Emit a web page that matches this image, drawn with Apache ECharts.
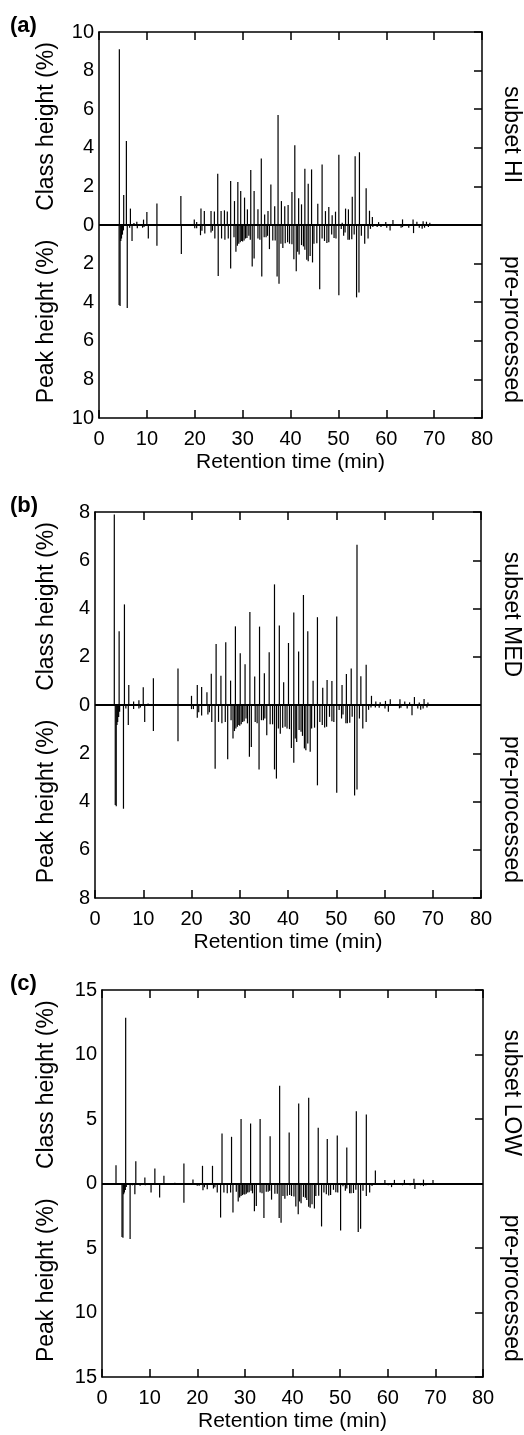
<!DOCTYPE html>
<html>

<head>
    <meta charset="utf-8">
    <title>Class height vs peak height</title>
    <script src="https://cdn.jsdelivr.net/npm/echarts@6/dist/echarts.min.js"></script>
    <style>
        html, body { margin: 0; padding: 0; background: #fff; }
        #main { width: 524px; height: 1435px; }
    </style>
</head>

<body>
    <div id="main"></div>
    <script type="text/javascript">
        // subset HI class heights (%)
        var hiTimes = [4.25, 5.16, 5.72, 6.56, 7.3, 7.9, 9.3, 10.0, 10.7, 12.1, 16.0, 17.1, 19.9, 20.4, 21.3, 22.0,
            23.4, 24.1, 24.8, 25.5, 26.2, 26.8, 27.5, 28.3, 29.0, 29.6, 30.4, 31.0, 31.7, 32.4, 33.2, 33.9, 34.6,
            35.3, 35.9, 36.7, 37.4, 38.1, 38.8, 39.5, 40.3, 40.9, 41.7, 42.3, 43.0, 43.7, 44.4, 45.7, 46.6, 47.3,
            48.0, 48.7, 49.4, 50.1, 50.8, 51.5, 52.1, 52.9, 53.5, 54.4, 55.8, 56.5, 57.1, 58.4, 59.9, 61.4, 63.4,
            65.6, 66.4, 67.7, 68.4, 69.1];
        var hiHeights = [9.1, 1.55, 4.35, 0.85, 0.1, 0.17, 0.28, 0.67, 0.05, 1.12, 0.02, 1.5, 0.28, 0.15, 0.85, 0.72,
            0.72, 0.7, 2.66, 0.72, 0.76, 0.7, 2.28, 1.24, 2.23, 1.76, 1.42, 0.81, 2.85, 1.76, 0.81, 3.44, 0.55,
            0.72, 2.1, 0.97, 5.7, 1.24, 0.97, 1.04, 1.71, 4.13, 1.38, 1.07, 2.92, 2.14, 2.88, 1.1, 3.14, 0.72,
            0.93, 0.5, 0.69, 3.64, 0.12, 0.85, 0.81, 1.47, 3.56, 3.77, 1.9, 0.74, 0.41, 0.15, 0.15, 0.26, 0.29,
            0.28, 0.17, 0.2, 0.17, 0.12];

        // subset MED class heights (%)
        var medTimes = [4.0, 5.0, 6.1, 7.0, 8.0, 9.1, 9.5, 10.0, 11.0, 12.1, 16.1, 17.2, 20.0, 21.2, 22.1, 23.2,
            24.1, 25.1, 26.1, 27.1, 28.1, 29.1, 30.1, 31.1, 32.1, 33.1, 34.1, 35.1, 36.1, 37.2, 38.2, 39.1, 40.1,
            41.2, 42.2, 43.2, 44.1, 45.2, 46.1, 47.2, 48.1, 49.1, 50.1, 51.2, 52.1, 53.1, 54.3, 55.1, 56.2, 57.3,
            58.2, 59.1, 60.2, 61.2, 63.2, 64.2, 65.2, 66.2, 67.2, 68.2, 69.0];
        var medHeights = [7.9, 3.06, 4.17, 0.83, 0.14, 0.2, 0.03, 0.74, 0.06, 1.11, 0.03, 1.51, 0.38, 0.83, 0.75, 0.53,
            1.3, 2.53, 1.21, 2.6, 1.01, 3.26, 2.14, 1.69, 3.85, 1.18, 3.25, 1.32, 2.19, 5.0, 3.3, 0.94, 2.57,
            3.83, 2.22, 4.56, 3.06, 1.01, 3.64, 0.72, 1.04, 1.0, 3.67, 0.83, 1.29, 1.51, 6.64, 1.19, 1.67, 0.38,
            0.14, 0.11, 0.17, 0.24, 0.24, 0.14, 0.11, 0.33, 0.1, 0.25, 0.1];

        // subset LOW class heights (%)
        var lowTimes = [2.94, 4.97, 7.1, 9.0, 11.1, 13.0, 15.3, 17.2, 19.1, 21.1, 23.2, 25.2, 27.2, 29.2, 31.2, 33.2,
            35.3, 37.3, 39.3, 41.3, 43.4, 45.4, 47.3, 49.4, 51.4, 53.4, 55.5, 57.4, 59.4, 61.4, 63.5, 65.5, 67.5,
            69.5];
        var lowHeights = [1.42, 12.84, 1.73, 0.47, 1.16, 0.6, 0.05, 1.55, 0.31, 1.37, 1.37, 3.88, 3.62, 5.0, 4.65, 5.0,
            3.67, 7.57, 3.95, 6.2, 6.64, 4.32, 3.44, 3.72, 2.79, 5.61, 5.35, 1.0, 0.28, 0.28, 0.28, 0.36, 0.3,
            0.28];

        // pre-processed peak heights (%), same in every panel
        var preTimes = [4.2, 4.4, 4.55, 4.7, 4.9, 5.1, 5.9, 6.4, 6.9, 8.0, 9.1, 9.4, 10.3, 12.1, 16.1, 17.2, 20.0,
            20.4, 21.2, 21.5, 22.1, 23.4, 23.7, 24.2, 24.9, 25.6, 26.3, 27.0, 27.5, 28.2, 28.6, 28.9, 29.2, 29.5,
            29.8, 30.0, 30.3, 30.6, 30.9, 31.3, 31.6, 32.0, 32.4, 33.2, 33.6, 34.0, 34.5, 34.9, 35.2, 35.6, 36.3,
            36.8, 37.2, 37.6, 38.0, 38.4, 38.9, 39.4, 39.8, 40.3, 40.7, 41.2, 41.5, 41.8, 42.3, 42.7, 43.0, 43.4,
            43.7, 44.1, 44.6, 44.9, 45.5, 46.1, 46.6, 47.1, 47.6, 48.0, 48.6, 49.1, 49.5, 50.1, 50.6, 51.1, 51.4,
            52.0, 52.3, 52.8, 53.3, 53.8, 54.3, 54.8, 55.5, 56.2, 56.7, 57.2, 58.1, 58.9, 60.1, 60.8, 63.1, 63.4,
            64.7, 65.7, 66.9, 67.5, 68.0, 68.8];
        var preHeights = [4.15, 4.2, 0.83, 0.7, 0.5, 0.28, 4.3, 0.14, 0.83, 0.17, 0.14, 0.1, 0.7, 1.08, 0.03, 1.5, 0.17,
            0.17, 0.53, 0.3, 0.44, 0.39, 0.3, 0.7, 2.64, 0.7, 0.76, 0.7, 2.25, 0.63, 1.39, 1.08, 0.97, 0.9,
            0.83, 0.86, 0.8, 0.7, 0.67, 0.56, 0.76, 2.15, 1.74, 0.7, 0.76, 2.67, 0.63, 0.63, 0.56, 1.25, 0.8,
            0.8, 2.67, 3.05, 0.97, 1.19, 0.94, 0.9, 0.97, 1.0, 1.78, 2.39, 1.39, 1.53, 1.04, 1.11, 1.28, 1.8,
            1.88, 1.6, 1.94, 0.97, 0.94, 3.33, 0.7, 0.83, 0.93, 0.9, 0.49, 0.67, 0.7, 3.64, 0.21, 0.56, 0.39,
            0.76, 0.76, 0.74, 0.49, 3.75, 3.5, 0.56, 0.97, 0.7, 0.2, 0.1, 0.1, 0.11, 0.14, 0.28, 0.14, 0.11,
            0.14, 0.42, 0.14, 0.2, 0.14, 0.1];

        var xTicks = [0, 80, 10];          // min, max, interval
        var yRangeA = [10, 2];             // max, interval
        var yRangeB = [8, 2];
        var yRangeC = [15, 5];

        var FONT = 'Liberation Sans, Arial, sans-serif';

        function pairs(t, v, sign) {
            return t.map(function(x, i) {
                return [x, sign * v[i]];
            });
        }

        function renderStick(params, api) {
            var p0 = api.coord([api.value(0), 0]);
            var p1 = api.coord([api.value(0), api.value(1)]);
            return {
                type: 'line',
                shape: { x1: p0[0], y1: p0[1], x2: p1[0], y2: p1[1] },
                style: { stroke: '#000', lineWidth: 1.2 }
            };
        }

        var panels = [
            { grid: { left: 99, right: 42, top: 32, height: 386 }, y: yRangeA, t: hiTimes, v: hiHeights, tag: '(a)', sub: 'subset HI' },
            { grid: { left: 95, right: 43, top: 512, height: 386 }, y: yRangeB, t: medTimes, v: medHeights, tag: '(b)', sub: 'subset MED' },
            { grid: { left: 102, right: 41, top: 990, height: 387 }, y: yRangeC, t: lowTimes, v: lowHeights, tag: '(c)', sub: 'subset LOW' }
        ];

        var option = {
            animation: false,
            backgroundColor: '#fff',
            textStyle: { fontFamily: FONT },
            grid: [],
            xAxis: [],
            yAxis: [],
            series: [],
            graphic: []
        };

        var lineBlack = { color: '#000', width: 1.5 };

        panels.forEach(function(p, i) {
            option.grid.push(p.grid);
            // bottom axis
            option.xAxis.push({
                gridIndex: i, type: 'value', min: xTicks[0], max: xTicks[1], interval: xTicks[2],
                position: 'bottom',
                axisLine: { onZero: false, lineStyle: lineBlack },
                axisTick: { inside: true, length: 8, lineStyle: lineBlack },
                axisLabel: { color: '#000', fontSize: 20, fontFamily: FONT, margin: 11 },
                splitLine: { show: false },
                name: 'Retention time (min)', nameLocation: 'middle', nameGap: 34,
                nameTextStyle: { color: '#000', fontSize: 21, fontFamily: FONT }
            });
            // top axis (ticks only)
            option.xAxis.push({
                gridIndex: i, type: 'value', min: xTicks[0], max: xTicks[1], interval: xTicks[2],
                position: 'top',
                axisLine: { onZero: false, lineStyle: lineBlack },
                axisTick: { inside: true, length: 8, lineStyle: lineBlack },
                axisLabel: { show: false },
                splitLine: { show: false }
            });
            // left axis with labels
            option.yAxis.push({
                gridIndex: i, type: 'value', min: -p.y[0], max: p.y[0], interval: p.y[1],
                position: 'left',
                axisLine: { show: true, onZero: false, lineStyle: lineBlack },
                axisTick: { show: false },
                axisLabel: {
                    color: '#000', fontSize: 20, fontFamily: FONT, margin: 5,
                    formatter: function(val) { return String(Math.abs(val)); }
                },
                splitLine: { show: false }
            });
            // right axis (ticks only)
            option.yAxis.push({
                gridIndex: i, type: 'value', min: -p.y[0], max: p.y[0], interval: p.y[1],
                position: 'right',
                axisLine: { show: true, onZero: false, lineStyle: lineBlack },
                axisTick: { show: true, inside: true, length: 8, lineStyle: lineBlack },
                axisLabel: { show: false },
                splitLine: { show: false }
            });

            option.series.push({
                type: 'custom', xAxisIndex: i * 2, yAxisIndex: i * 2,
                renderItem: renderStick,
                data: pairs(p.t, p.v, 1),
                markLine: {
                    silent: true, symbol: 'none', label: { show: false },
                    lineStyle: { color: '#000', width: 2, type: 'solid' },
                    data: [{ yAxis: 0 }]
                }
            });
            option.series.push({
                type: 'custom', xAxisIndex: i * 2, yAxisIndex: i * 2,
                renderItem: renderStick,
                data: pairs(preTimes, preHeights, -1)
            });

            var top = p.grid.top, h = p.grid.height;
            var upperMid = top + h / 4, lowerMid = top + h * 3 / 4;
            option.graphic.push(
                { type: 'text', left: 10, top: top - 17, style: { text: p.tag, font: 'bold 22px ' + FONT, fill: '#000' } },
                { type: 'text', x: 47, y: upperMid - 2, rotation: Math.PI / 2,
                  style: { text: 'Class height (%)', font: '23px ' + FONT, fill: '#000', textAlign: 'center', textVerticalAlign: 'middle' } },
                { type: 'text', x: 47, y: lowerMid, rotation: Math.PI / 2,
                  style: { text: 'Peak height (%)', font: '23px ' + FONT, fill: '#000', textAlign: 'center', textVerticalAlign: 'middle' } },
                { type: 'text', x: 511, y: upperMid + 6, rotation: -Math.PI / 2,
                  style: { text: p.sub, font: '23px ' + FONT, fill: '#000', textAlign: 'center', textVerticalAlign: 'middle' } },
                { type: 'text', x: 511, y: lowerMid + 8, rotation: -Math.PI / 2,
                  style: { text: 'pre-processed', font: '23px ' + FONT, fill: '#000', textAlign: 'center', textVerticalAlign: 'middle' } }
            );
        });

        var chart = echarts.init(document.getElementById('main'));
        chart.setOption(option);
    </script>
</body>

</html>
